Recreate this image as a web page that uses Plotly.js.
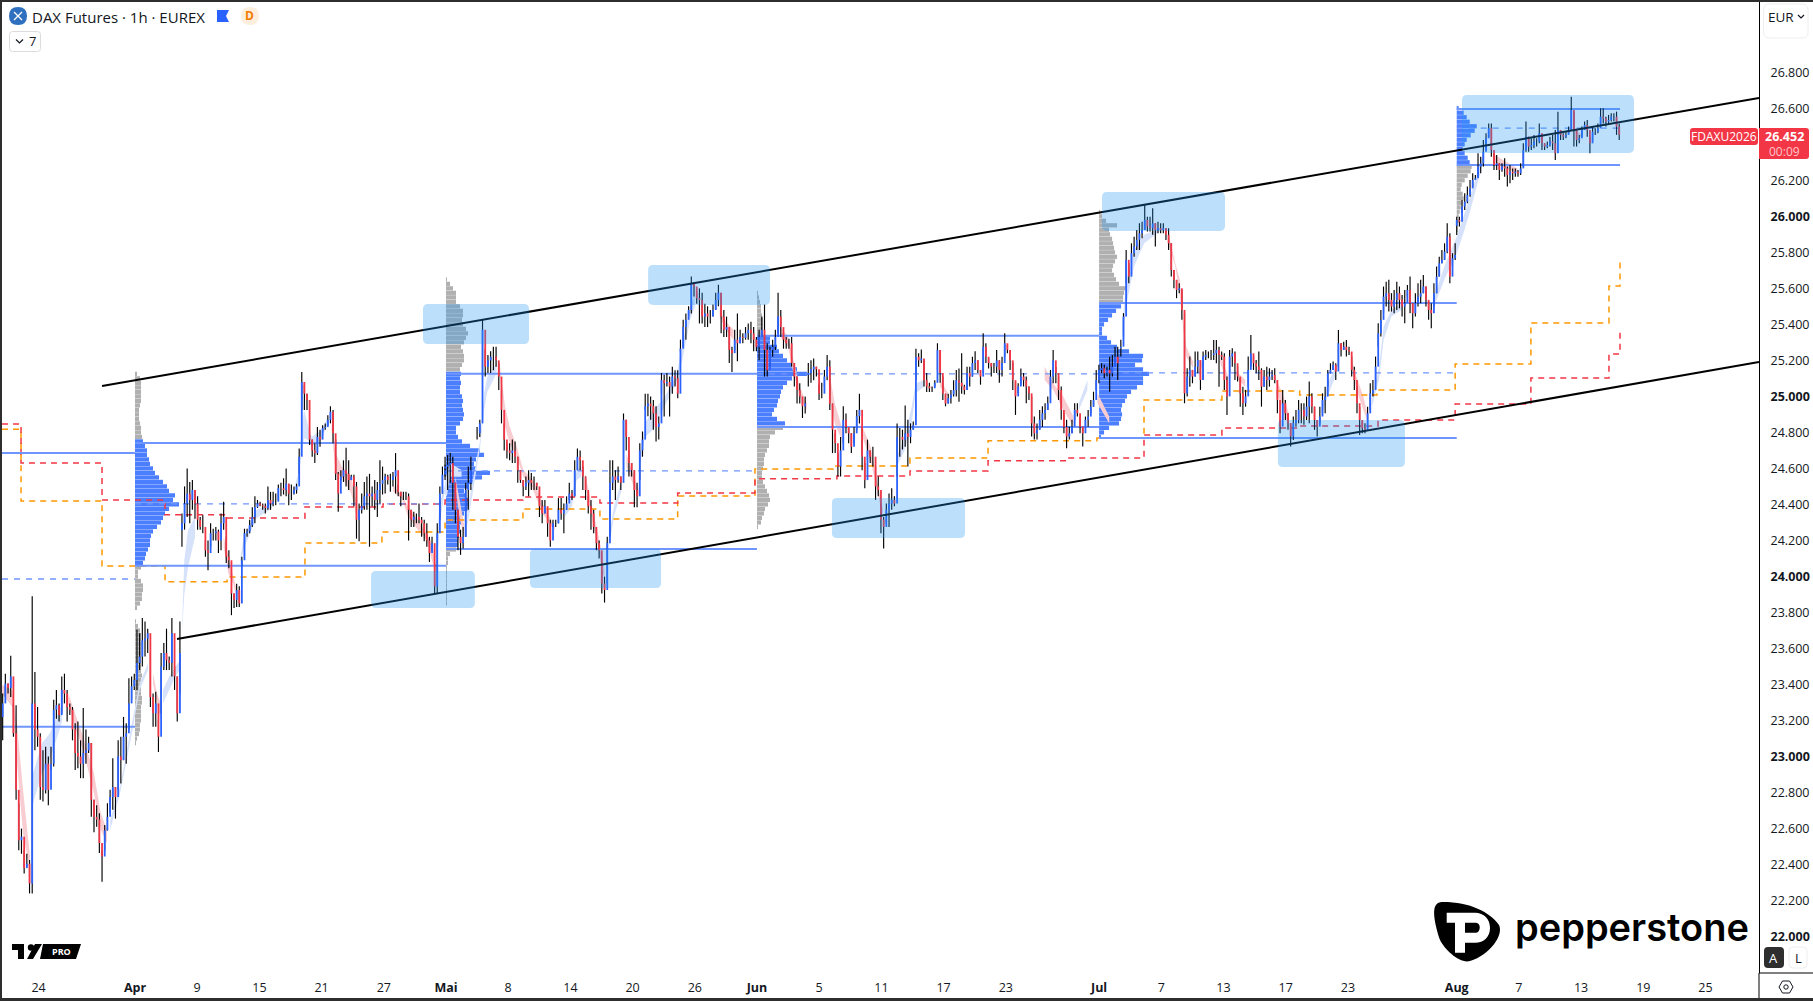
<!DOCTYPE html>
<html><head><meta charset="utf-8">
<script src="https://cdn.plot.ly/plotly-3.0.1.min.js"></script>
<style>
html,body{margin:0;padding:0;background:#fff;overflow:hidden}
#chart{position:absolute;left:0;top:0;width:1813px;height:1001px}
.f{position:absolute;background:#2e2e2e;pointer-events:none}
</style></head><body>
<div id="chart"></div>
<div class="f" style="left:0;top:0;width:2px;height:1001px"></div>
<div class="f" style="left:0;top:0;width:1813px;height:2px"></div>
<div class="f" style="left:0;top:998px;width:1813px;height:3px"></div>
<script>
// Hourly DAX future as [high, low, close] rows per stretch of trading days.
const marBars=[[23350,23090,23295],[23460,23330,23405],[23405,23350,23380],[23560,23330,23445],[23295,23110,23130],[23285,22760,22815],[22740,22480,22535],[22600,22460,22555],[22480,22350,22380],[22460,22390,22405],[22425,22240,22295],[23890,22240,23295],[23470,23035,23150],[23275,23055,23110],[23130,22760,22830],[23035,22750,22815],[23055,22795,22960],[23000,22730,22815],[23055,22925,22960],[23315,22945,23260],[23370,23210,23285],[23295,23195,23230],[23445,23240,23370],[23460,23295,23350],[23370,23195,23275],[23295,23230,23260],[23275,23090,23150],[23185,22925,23020],[23195,22935,23000],[23090,22880,22960],[23270,22880,23020],[23150,22960,23035],[23110,23020,23075],[23075,22665,22760],[22760,22580,22665],[22730,22610,22650],[22685,22465,22520],[22480,22305,22445],[22620,22480,22590],[22740,22590,22665],[22815,22685,22775],[22990,22705,22830],[22830,22655,22775],[23090,22815,23000],[23110,22850,22980],[23220,22980,23110],[23185,22960,23130],[23435,23150,23295],[23445,23315,23390],[23460,23370,23425],[23705,23370,23520],[23685,23480,23555],[23770,23500,23645],[23750,23555,23655],[23710,23575,23685],[23575,23275,23330],[23350,23165,23240],[23360,23165,23295],[23205,23025,23110],[23575,23240,23500],[23630,23480,23575],[23710,23480,23535],[23555,23480,23520],[23770,23445,23685],[23500,23370,23445],[23445,23195,23240],[23750,23350,23575]];
const aprBars=[[24350,24165,24295],[24500,24260,24405],[24600,24330,24460],[24525,24295,24425],[24535,24370,24480],[24480,24320,24405],[24445,24260,24315],[24330,24260,24275],[24340,24240,24275],[24200,24110,24145],[24200,24035,24130],[24295,24165,24240],[24265,24200,24240],[24275,24200,24250],[24260,24130,24200],[24350,24145,24295],[24415,24260,24330],[24220,24075,24110],[24145,24045,24090],[23925,23785,23905],[23905,23825,23870],[23960,23830,23925],[23945,23830,23850],[24110,24055,24090],[24265,24110,24240],[24265,24220,24250],[24315,24240,24285],[24385,24275,24330],[24445,24295,24385],[24425,24380,24405],[24415,24390,24395],[24405,24370,24390],[24405,24350,24380],[24500,24370,24425],[24470,24370,24405],[24470,24390,24415],[24460,24395,24415],[24510,24425,24490],[24520,24445,24490],[24545,24455,24480],[24600,24445,24515],[24515,24395,24460],[24510,24425,24460],[24500,24455,24480],[24515,24460,24500],[24710,24570,24665],[25135,24925,25080],[25065,24925,25015],[25015,24925,24980],[24785,24730,24760],[24760,24665,24700],[24740,24630,24685],[24830,24675,24775],[24815,24720,24760],[24840,24805,24825],[24850,24815,24830],[24895,24840,24870],[24945,24850,24915],[24925,24740,24795],[24760,24535,24570],[24580,24360,24460],[24590,24535,24555],[24645,24525,24590],[24715,24500,24570],[24645,24480,24535],[24565,24535,24555],[24565,24390,24500],[24525,24210,24315],[24405,24195,24370],[24460,24350,24390],[24525,24370,24445],[24555,24370,24460],[24570,24165,24445],[24500,24390,24460],[24535,24370,24425],[24525,24330,24480],[24645,24405,24515],[24610,24455,24535],[24570,24460,24555],[24565,24510,24535],[24570,24470,24535],[24580,24500,24555],[24685,24460,24590],[24510,24445,24470],[24470,24390,24445],[24470,24425,24445],[24470,24425,24445],[24460,24200,24370],[24370,24275,24315],[24360,24275,24330],[24350,24295,24330],[24405,24295,24315],[24330,24220,24295],[24315,24195,24240],[24295,24165,24200],[24220,24080,24130],[24220,24145,24185],[24070,23905,23945],[24295,23905,24240],[24500,24315,24460],[24610,24460,24565],[24620,24555,24590]];
const mayEarlyBars=[[24665,24535,24610],[24675,24480,24620],[24685,24520,24630],[24665,24370,24520],[24520,24295,24370],[24370,24145,24220],[24260,24120,24185],[24275,24155,24220],[24520,24220,24480],[24610,24370,24520],[24665,24480,24590]];
const mayBars=[[24830,24760,24795],[24870,24775,24850],[25425,25110,25370],[25260,25110,25165],[25230,25130,25200],[25250,25130,25220],[25275,25145,25220],[25275,25165,25200],[25185,25035,25110],[25035,24850,24925],[24850,24700,24760],[24740,24655,24700],[24740,24645,24685],[24760,24630,24700],[24750,24630,24665],[24665,24520,24590],[24590,24520,24535],[24535,24445,24500],[24555,24480,24520],[24590,24445,24535],[24575,24480,24520],[24555,24480,24520],[24520,24480,24500],[24480,24330,24390],[24425,24295,24350],[24425,24350,24390],[24370,24220,24295],[24315,24165,24200],[24315,24275,24295],[24315,24275,24295],[24435,24295,24370],[24435,24315,24350],[24405,24240,24370],[24445,24370,24405],[24520,24425,24460],[24480,24425,24445],[24645,24445,24590],[24710,24590,24665],[24700,24590,24645],[24610,24480,24555],[24555,24425,24480],[24445,24350,24390],[24425,24260,24350],[24370,24240,24275],[24275,24145,24185],[24200,24100,24145],[24035,23905,23960],[23999,23855,23925],[24220,23960,24185],[24645,24220,24520],[24645,24480,24555],[24590,24425,24535],[24610,24520,24555],[24555,24480,24520],[24905,24555,24870],[24870,24700,24775],[24700,24555,24630],[24630,24555,24590],[24590,24385,24480],[24520,24385,24445],[24740,24535,24700],[24805,24665,24760],[25015,24925,24945],[25015,24890,24960],[25000,24870,24945],[24980,24815,24905],[24945,24750,24830],[24888,24760,24850],[25130,25015,25090],[25120,24888,25073],[25130,25055,25080],[25110,24888,25055],[25165,25015,25110],[25145,25055,25100],[25145,24990,25015],[25315,25250,25265],[25425,25275,25385],[25460,25315,25425],[25500,25445,25480],[25665,25460,25628],[25635,25555,25610],[25575,25515,25545],[25600,25405,25535],[25575,25405,25443],[25515,25385,25460],[25500,25385,25443],[25480,25405,25443],[25510,25443,25480],[25575,25480,25535],[25620,25500,25575],[25575,25350,25443],[25480,25330,25370],[25443,25330,25385],[25370,25185,25258],[25275,25135,25240],[25370,25258,25315],[25460,25195,25295],[25370,25295,25330],[25350,25295,25325],[25385,25315,25350],[25405,25315,25370],[25415,25295,25350],[25385,25250,25315],[25330,25250,25275],[25370,25200,25330],[25443,25330,25370],[25510,25110,25258],[25295,25110,25145],[25275,25165,25258],[25315,25220,25275],[25370,25258,25330],[25575,25350,25443],[25480,25330,25385],[25350,25265,25315],[25330,25265,25295],[25320,25265,25295],[25330,25165,25185],[25185,25055,25110],[25110,24960,25035],[25073,24960,25000],[24980,24880,24945],[25000,24905,24960]];
const junBars=[[25185,25055,25130],[25200,25075,25150],[25210,25090,25165],[25165,25110,25150],[25065,24980,25015],[25075,24990,25015],[25147,25055,25110],[25230,25090,25165],[25200,24925,24960],[24960,24685,24815],[24795,24685,24740],[24685,24555,24610],[24775,24555,24700],[24945,24740,24870],[24905,24795,24830],[24830,24740,24795],[24795,24685,24720],[24830,24740,24795],[24925,24815,24890],[25015,24850,24925],[24830,24590,24665],[24630,24490,24535],[24760,24645,24700],[24700,24630,24665],[24720,24610,24665],[24610,24425,24500],[24555,24445,24480],[24405,24240,24315],[24330,24155,24275],[24405,24295,24370],[24460,24275,24405],[24490,24370,24425],[24445,24390,24405],[24850,24555,24775],[24825,24665,24775],[24815,24705,24760],[24950,24720,24795],[24870,24610,24775],[24850,24740,24815],[24860,24815,24840],[25265,25090,25220],[25240,25165,25200],[25260,25185,25210],[25200,25055,25090],[25130,25025,25055],[25075,25025,25045],[25055,25025,25045],[25090,25055,25075],[25295,25147,25258],[25258,25075,25130],[25110,24980,25015],[25015,24945,24960],[25015,24960,24990],[25035,24960,25010],[25090,25000,25035],[25147,25000,25090],[25155,24970,25075],[25240,25015,25055],[25065,25010,25035],[25165,25035,25130],[25165,25055,25110],[25220,25110,25185],[25250,25147,25200],[25200,25130,25147],[25130,25065,25110],[25350,25130,25275],[25295,25185,25220],[25210,25155,25185],[25185,25110,25165],[25185,25130,25165],[25258,25130,25200],[25200,25075,25147],[25220,25110,25185],[25350,25220,25295],[25285,25240,25258],[25258,25147,25200],[25185,25035,25090],[25073,24897,25000],[25073,25017,25055],[25155,25065,25110],[25130,25055,25090],[25110,24962,25055],[25055,24980,25017],[25000,24777,24850],[24888,24760,24795],[24850,24760,24815],[24925,24815,24870],[24945,24830,24906],[24962,24870,24925],[25000,24925,24962],[25147,25017,25110],[25258,25073,25200],[25165,25073,25130],[25110,24980,25035],[25055,24870,24925],[24906,24795,24830],[24870,24712,24777],[24832,24760,24795],[24870,24795,24832],[24962,24870,24925],[24962,24888,24906],[24888,24795,24832],[24832,24721,24795],[24888,24832,24870],[24925,24832,24888],[24980,24906,24943],[25026,24943,24980],[25147,25036,25091],[25175,25073,25147],[25184,25128,25156],[25175,25100,25128],[25165,25110,25147],[25220,25026,25128],[25230,25110,25165],[25276,25165,25220],[25276,25091,25184]];
const julBars=[[25314,25221,25276],[25462,25332,25443],[25813,25628,25758],[25739,25628,25665],[25850,25739,25795],[25887,25776,25832],[25924,25813,25869],[25961,25813,25906],[25970,25878,25924],[26063,25924,25980],[25998,25915,25943],[25998,25915,25934],[26045,25897,25961],[25961,25832,25924],[25970,25906,25934],[25961,25906,25924],[25961,25906,25934],[25934,25869,25897],[25934,25813,25850],[25850,25665,25702],[25702,25600,25647],[25647,25545,25591],[25628,25573,25600],[25591,25425,25480],[25462,24962,25017],[25156,25000,25110],[25221,25054,25147],[25147,25073,25110],[25249,25110,25165],[25249,25128,25202],[25202,25036,25091],[25249,25091,25221],[25258,25202,25230],[25249,25212,25230],[25258,25202,25230],[25313,25202,25239],[25313,25184,25258],[25276,25054,25230],[25249,25202,25221],[25239,25036,25091],[25110,24897,25000],[25258,25128,25221],[25267,25165,25239],[25249,25091,25184],[25165,25082,25110],[25101,24943,25017],[25054,24897,24962],[25036,24943,25000],[25221,25054,25147],[25341,25165,25239],[25221,25147,25184],[25202,25128,25165],[25249,25091,25147],[25156,24943,25054],[25147,25054,25110],[25165,25036,25091],[25156,25054,25110],[25147,25091,25119],[25156,25073,25091],[25036,24906,24980],[24869,24795,24832],[25036,24869,24962],[24980,24869,24906],[24906,24814,24851],[24851,24721,24777],[24888,24758,24851],[24925,24832,24869],[24980,24851,24925],[24962,24851,24925],[24962,24842,24888],[24999,24869,24943],[25082,24851,24999],[25017,24906,24943],[24943,24814,24869],[24869,24777,24832],[24943,24851,24888],[25017,24906,24980],[25054,24906,24999],[25147,25054,25128],[25184,25128,25147],[25193,25147,25175],[25184,25091,25138],[25369,25165,25295],[25295,25221,25258],[25304,25258,25276],[25313,25221,25258],[25276,25230,25249],[25221,25110,25147],[25165,25036,25091],[25054,24906,24962],[24943,24786,24869],[24860,24795,24823],[24851,24795,24814],[24943,24823,24906],[25073,24925,25017],[25091,24999,25036],[25221,25073,25165],[25406,25276,25350],[25480,25332,25425],[25610,25462,25554],[25637,25499,25573],[25647,25471,25536],[25573,25471,25499],[25591,25462,25536],[25637,25480,25573],[25610,25489,25536],[25563,25443,25499],[25591,25406,25517],[25619,25554,25591],[25665,25462,25517],[25517,25378,25462],[25573,25443,25517],[25628,25499,25554],[25647,25517,25573],[25674,25573,25610],[25610,25499,25536],[25526,25425,25480],[25517,25378,25462],[25628,25499,25573],[25721,25573,25665],[25776,25665,25739],[25813,25739,25758],[25850,25758,25804],[25961,25795,25887],[25906,25628,25665],[25795,25721,25767],[25850,25758,25785]];
const augBars=[[25998,25896,25980],[25998,25943,25970],[26091,26017,26054],[26128,26035,26081],[26165,26072,26118],[26202,26109,26155],[26239,26165,26202],[26230,26202,26211],[26350,26220,26276],[26331,26239,26294],[26424,26276,26359],[26461,26368,26433],[26516,26442,26489],[26516,26331,26368],[26350,26257,26285],[26340,26257,26294],[26294,26202,26257],[26294,26248,26276],[26322,26220,26266],[26276,26165,26229],[26285,26183,26248],[26266,26202,26239],[26266,26220,26248],[26257,26220,26239],[26294,26229,26266],[26405,26276,26368],[26526,26359,26442],[26442,26359,26387],[26433,26368,26396],[26452,26378,26415],[26433,26387,26415],[26516,26405,26461],[26452,26368,26405],[26405,26368,26387],[26415,26378,26396],[26442,26387,26415],[26452,26368,26405],[26479,26313,26350],[26581,26452,26479],[26479,26424,26452],[26461,26424,26442],[26470,26433,26452],[26498,26461,26479],[26664,26479,26590],[26581,26387,26479],[26461,26387,26424],[26452,26405,26433],[26498,26442,26479],[26526,26479,26507],[26535,26442,26479],[26442,26350,26405],[26498,26424,26470],[26489,26452,26470],[26516,26461,26489],[26600,26498,26553],[26600,26516,26544],[26553,26498,26526],[26563,26507,26535],[26572,26526,26553],[26572,26526,26553],[26581,26452,26498],[26516,26424,26452]];
// first and last trading day of each stretch (Apr 1 = day 0)
const barSpans=[[marBars,-8.51,2.89],[aprBars,3.02,19.94],[mayEarlyBars,19.94,21.6],[mayBars,22.0,43.1],[junBars,43.3,63.2],[julBars,63.4,84.9],[augBars,85.0,95.45]];

// pale moving-average ribbons: [day, upper, lower]
const upRibbons=[
[[-6.62,22888,22722],[-5.98,23074,22907],[-5.47,23129,22981],[-4.69,23296,23194]],
[[-1.6,22648,22592],[-0.96,22833,22796],[-0.2,23185,23129],[0.3,23407,23370],[0.84,23518,23481]],
[[1.8,23370,23296],[2.2,23444,23370],[2.6,23499,23444],[2.9,23536,23481]],
[[3.03,23730,23700],[3.17,24091,23900],[3.41,24258,24050],[3.86,24332,24220]],
[[6.75,24091,24054],[6.97,24202,24147],[7.3,24277,24221],[7.8,24369,24323],[8.8,24406,24378]],
[[10.17,24471,24452],[10.5,24573,24517],[10.7,24813,24684],[10.87,24924,24767],[11.1,24850,24758],[11.36,24776,24721],[12.0,24813,24758],[12.4,24887,24850]],
[[19.4,24165,24054],[19.6,24406,24295],[19.9,24499,24462],[20.05,24573,24443],[20.27,24628,24554],[21,24591,24554]],
[[21.37,24369,24277],[21.75,24554,24480],[22.2,24758,24721],[22.45,25017,24925],[22.66,25110,25026],[23.25,25184,25128]],
[[27.65,24369,24332],[28.1,24443,24388],[28.4,24591,24536],[28.7,24610,24554]],
[[30.45,24203,24147],[30.8,24388,24332],[31.3,24536,24480]],
[[32.5,24665,24628],[32.8,24850,24776],[33.3,24925,24813],[33.95,24980,24925],[34.8,25110,25073],[35.2,25276,25202],[35.7,25498,25424],[36,25572,25498]],
[[49,24666,24610],[49.5,24777,24702],[49.95,24943,24851],[50.2,25073,25017],[50.75,25091,25054]],
[[60.7,24962,24925],[61.25,25091,25036]],
[[63.5,25406,25332],[63.77,25647,25517],[64.25,25813,25721],[64.9,25897,25850],[65.9,25934,25915]],
[[68.4,25147,25110],[68.8,25239,25212]],
[[76.3,24925,24888],[76.7,25073,25000],[77.2,25165,25110]],
[[79.55,24980,24943],[80,25165,25091],[80.3,25388,25313],[80.8,25480,25443],[81.45,25517,25480]],
[[83.55,25554,25499],[84.2,25721,25647],[85,25887,25795],[85.5,26017,25924],[85.9,26120,26040],[86.75,26368,26313]]];
const downRibbons=[
[[-8.55,23397,23350],[-7.9,23370,23277],[-7.6,23185,22962],[-7.2,22815,22574],[-6.75,22444,22370]],
[[-4.3,23351,23296],[-3.86,23240,23166],[-3.34,23111,23037],[-2.64,22907,22796],[-2.2,22685,22592],[-1.8,22592,22518]],
[[1.16,23462,23407],[1.41,23351,23296],[1.67,23296,23203]],
[[5.7,24221,24165],[6.0,24110,24017],[6.3,24017,23962],[6.54,23925,23888]],
[[12.65,24850,24813],[12.9,24684,24573],[13.3,24610,24554],[13.9,24554,24462],[14.26,24406,24332]],
[[16.6,24508,24471],[17.15,24452,24434],[17.56,24388,24332],[18.2,24314,24258],[18.75,24239,24202],[19.2,24147,24054],[19.3,24054,24017]],
[[20.6,24554,24499],[20.9,24406,24314],[21.17,24286,24221]],
[[23.47,25174,25119],[23.8,24943,24832],[24.1,24832,24739],[24.55,24721,24665],[24.97,24591,24554],[25.6,24536,24480],[26.2,24406,24351],[26.8,24314,24277],[27,24277,24258]],
[[28.94,24573,24517],[29.4,24388,24314],[29.7,24277,24203],[30,24147,24054],[30.2,24036,23980]],
[[31.6,24684,24610],[32,24573,24517],[32.4,24480,24443]],
[[37.6,25480,25443],[38,25415,25369],[38.5,25369,25313]],
[[41.5,25387,25332],[42,25332,25276],[42.3,25221,25147],[42.75,25054,25000],[43.2,24962,24925]],
[[44.7,25110,25000],[45,24962,24851],[45.45,24832,24758]],
[[46.7,24851,24795],[47.3,24721,24647],[47.8,24499,24443],[48.1,24369,24332]],
[[51.77,25091,25054],[52.3,25017,24999]],
[[58.5,25165,25091],[59.05,25073,25036],[59.7,25000,24925],[60.35,24888,24832]],
[[61.9,25017,24962],[62.65,24888,24851]],
[[66.45,25906,25850],[66.9,25739,25721],[67.2,25647,25554],[67.35,25462,25425],[67.6,25276,25221],[68.05,25193,25156]],
[[69.8,25239,25184],[70.3,25110,25054]],
[[70.85,25138,25101],[71.4,25091,25054]],
[[73.4,25091,25017],[73.8,25017,24943],[74.2,24906,24823]],
[[78.2,25221,25184],[78.55,25110,25036],[79,24999,24925],[79.3,24888,24851]],
[[87.45,26340,26294],[88.9,26266,26239]],
[[92.6,26489,26470],[93.05,26452,26433]]];

// monthly volume profiles: top bin price, then volume per 25-point bin going down
const binSize=25;
const aprProfile=[2,5,6,6,6,6,6,5,4,4,4,5,6,6,7,8,10,12,12,14,15,18,20,24,28,32,34,40,38,44,34,30,28,26,22,18,16,15,15,13,11,10,8,6,3,3,6,8,8,7,7,5,2,0,0,1,3,5,6,6,6,6,6,6,6,6,6,7,6,6,6,6,7,7,6,6,6,6,5,5,4,2,1];
const mayProfile=[1,4,7,10,10,10,14,17,17,16,17,20,22,20,18,15,17,18,18,16,14,15,14,15,14,14,16,17,16,17,18,17,14,10,10,12,16,24,34,38,30,28,30,44,36,28,22,18,20,22,24,22,18,16,16,14,14,13,12,12,10,4,2,2,1,1,1,1,1,1,1,1,1];
const junProfile=[1,2,3,4,4,5,6,6,6,6,13,13,20,22,26,30,34,40,50,35,30,26,24,23,21,20,17,15,20,28,26,18,13,12,12,10,8,7,7,6,5,5,6,8,10,12,13,11,8,7,5,4,1];
const julProfile=[1,3,7,18,10,11,13,14,15,16,18,16,14,13,15,17,20,30,25,24,24,22,17,13,9,5,3,3,8,12,18,30,44,43,36,44,50,44,44,38,32,28,26,23,22,23,22,20,10,5,2];
const augProfile=[2,7,10,13,20,18,14,10,8,6,8,11,13,15,14,11,8,5,4,6,7,5,4,3,2,2,1,1];
const profiles=[[aprProfile,0,25125,24750,24060],[mayProfile,20,25650,25125,24153],[junProfile,40,25575,25336,24830],[julProfile,62,26025,25519,24769],[augProfile,85,26600,26600,26285]];
const daysPerVolumeUnit=1/15.55;

// value-area high, point of control, value-area low and the days each month's levels run over
const levelMonths=[[-8.55,0],[0,20],[20,40],[40,62],[62,85],[85,95.5]];
const valueHighs=[24686,24741,25125,25336,25519,26596];
const pointsOfControl=[23986,24403,24586,25125,25130,26490];
const valueLows=[23165,24059,24153,24830,24769,26285];

// stepped monthly levels
const orangeDays=[-8.55,-7.33,-2.12,1.93,5.92,10.93,15.88,19.94,24.95,29.9,34.9,39.87,44.9,49.84,54.86,61.86,64.89,69.9,74.9,79.87,84.9,89.77,94.79,95.5,95.5];
const orangeLevels=[24818,24419,24058,23970,23997,24186,24247,24314,24375,24319,24447,24597,24614,24658,24753,24769,24980,25030,25008,25036,25180,25408,25613,25613,25769];
const redDays=[-8.55,-7.33,-2.12,1.93,5.92,10.93,15.95,19.94,24.95,29.9,34.9,39.87,45.14,49.84,54.86,59.94,64.89,69.9,74.8,79.94,84.9,89.77,94.79,95.5,95.5];
const redLevels=[24847,24630,24425,24342,24325,24386,24403,24425,24441,24408,24464,24542,24558,24586,24642,24658,24786,24825,24836,24869,24958,25102,25236,25236,25353];

// channel lines: [day, price]
const upperChannel=[[-2.12,25058],[104.44,26657]];
const lowerChannel=[[2.7,23653],[104.44,25191]];

// highlighted zones: day from, day to, price top, price bottom
const zones=[[15.18,21.86,24031,23825],[18.52,25.34,25513,25291],[25.4,33.83,24153,23936],[33,40.84,25730,25508],[44.82,53.38,24436,24214],[62.19,70.1,26135,25919],[73.5,81.67,24869,24608],[85.34,96.4,26674,26352]];

const priceTicks=[26800,26600,26200,26000,25800,25600,25400,25200,25000,24800,24600,24400,24200,24000,23800,23600,23400,23200,23000,22800,22600,22400,22200,22000];
const priceLabels=['26.800','26.600','26.200','<b>26.000</b>','25.800','25.600','25.400','25.200','<b>25.000</b>','24.800','24.600','24.400','24.200','<b>24.000</b>','23.800','23.600','23.400','23.200','<b>23.000</b>','22.800','22.600','22.400','22.200','<b>22.000</b>'];
const dayTicks=[-6.2,0,4,8,12,16,20,24,28,32,36,40,44,48,52,56,62,66,70,74,78,85,89,93,97,101];
const dayLabels=['24','<b>Apr</b>','9','15','21','27','<b>Mai</b>','8','14','20','26','<b>Jun</b>','5','11','17','23','<b>Jul</b>','7','13','17','23','<b>Aug</b>','7','13','19','25'];

const BLUE='#2962ff',RED='#f23645',LEVEL='#6f96ff',FONT='"Open Sans",sans-serif',INK='#131722';
const traces=[];

function ribbonTrace(list,color){
  const x=[],y=[];
  list.forEach(r=>{
    r.forEach(p=>{x.push(p[0]);y.push(p[1]);});
    r.slice().reverse().forEach(p=>{x.push(p[0]);y.push(p[2]);});
    x.push(null);y.push(null);
  });
  return {type:'scatter',mode:'lines',x,y,fill:'toself',fillcolor:color,line:{width:0},hoverinfo:'skip'};
}
traces.push(ribbonTrace(upRibbons,'#d6e1fa'));
traces.push(ribbonTrace(downRibbons,'#f8cdd1'));

profiles.forEach(([vols,day,top,vah,val])=>{
  const y=vols.map((v,i)=>top-i*binSize);
  traces.push({type:'bar',orientation:'h',base:day,y,x:vols.map(v=>v*daysPerVolumeUnit),width:23.5,
    marker:{color:y.map(p=>p<=vah&&p>=val?'#4c7fff':'#b0b0b0'),line:{width:0}},hoverinfo:'skip'});
});

traces.push({type:'scatter',mode:'lines',x:orangeDays,y:orangeLevels,line:{shape:'hv',color:'#ff9800',width:1.5,dash:'6px,5px'}});
traces.push({type:'scatter',mode:'lines',x:redDays,y:redLevels,line:{shape:'hv',color:RED,width:1.5,dash:'6px,5px'}});

function levelTrace(values,dash,width){
  const x=[],y=[];
  levelMonths.forEach((m,i)=>{x.push(m[0],m[1],null);y.push(values[i],values[i],null);});
  return {type:'scatter',mode:'lines',x,y,line:{color:LEVEL,width,dash}};
}
traces.push(levelTrace(valueHighs,'solid',2));
traces.push(levelTrace(valueLows,'solid',2));
traces.push(levelTrace(pointsOfControl,'6px,6px',1.3));

const wx=[],wy=[],ux=[],uy=[],dx=[],dy=[];
barSpans.forEach(([rows,a,b])=>{
  rows.forEach((r,i)=>{
    const t=a+(b-a)*i/(rows.length-1);
    const open=i?rows[i-1][2]:(r[0]+r[1])/2;
    wx.push(t,t,null);wy.push(r[0],r[1],null);
    if(r[2]>=open){ux.push(t,t,null);uy.push(open,r[2],null);}
    else{dx.push(t,t,null);dy.push(open,r[2],null);}
  });
});
traces.push({type:'scatter',mode:'lines',x:wx,y:wy,line:{color:'#000',width:1.15}});
traces.push({type:'scatter',mode:'lines',x:ux,y:uy,line:{color:BLUE,width:1.8}});
traces.push({type:'scatter',mode:'lines',x:dx,y:dy,line:{color:RED,width:1.8}});

[upperChannel,lowerChannel].forEach(c=>traces.push({type:'scatter',mode:'lines',x:c.map(p=>p[0]),y:c.map(p=>p[1]),line:{color:'#000',width:2}}));

const shapes=[];
zones.forEach(([a,b,t,u])=>{
  const rx=0.32,ry=28;
  shapes.push({type:'path',xref:'x',yref:'y',layer:'above',line:{width:0},fillcolor:'rgba(33,150,243,0.3)',
    path:`M${a+rx},${t} L${b-rx},${t} Q${b},${t} ${b},${t-ry} L${b},${u+ry} Q${b},${u} ${b-rx},${u} L${a+rx},${u} Q${a},${u} ${a},${u+ry} L${a},${t-ry} Q${a},${t} ${a+rx},${t} Z`});
});

// page furniture placed in pixels of the 1813x1001 picture
const PL=2,PR=1759,PT=2,PB=973;
const fx=v=>(v-PL)/(PR-PL), fy=v=>1-(v-PT)/(PB-PT);
const pt=(x,y)=>fx(x)+','+fy(y);
function furn(path,fill,line){shapes.push({type:'path',xref:'paper',yref:'paper',layer:'above',path,fillcolor:fill||'rgba(0,0,0,0)',line:line||{width:0}});}
function rr(x0,y0,x1,y1,r,rl){const l=rl===undefined?r:rl;return `M${pt(x0+l,y0)} L${pt(x1-r,y0)} Q${pt(x1,y0)} ${pt(x1,y0+r)} L${pt(x1,y1-r)} Q${pt(x1,y1)} ${pt(x1-r,y1)} L${pt(x0+l,y1)} Q${pt(x0,y1)} ${pt(x0,y1-l)} L${pt(x0,y0+l)} Q${pt(x0,y0)} ${pt(x0+l,y0)} Z`;}
function circ(cx,cy,r){return rr(cx-r,cy-r,cx+r,cy+r,r);}
function poly(list){return 'M'+list.map(p=>pt(p[0],p[1])).join(' L')+' Z';}
function stroke(list){return 'M'+list.map(p=>pt(p[0],p[1])).join(' L');}
const ann=[];
function label(text,x,y,size,color,anchor,extra){ann.push(Object.assign({xref:'paper',yref:'paper',x:fx(x),y:fy(y),text,showarrow:false,xanchor:anchor||'left',yanchor:'middle',font:{family:FONT,size,color:color||INK},borderpad:0,captureevents:false},extra||{}));}

// axis frame pieces outside the plot
furn(stroke([[PR,PB],[1813,PB]]),null,{color:'#000',width:1});
furn(stroke([[PR,PB],[PR,998]]),null,{color:'#000',width:1});

// header
furn(circ(18,16,9),'#2f6fc0');
furn(stroke([[14,12],[22,20]]),null,{color:'#fff',width:1.2});
furn(stroke([[22,12],[14,20]]),null,{color:'#fff',width:1.2});
label('DAX Futures · 1h · EUREX',31,16.5,15);
furn(poly([[217,10],[229,10],[226,16],[229,22],[217,22]]),BLUE);
furn(circ(250,16,9),'#fdeedd');
label('<b>D</b>',250,16,12,'#f57c00','center');
furn(rr(9.5,31.5,40.5,51.5,3),'#fff',{color:'#dcdcdc',width:1});
furn(stroke([[16,39.5],[19.5,43],[23,39.5]]),null,{color:INK,width:1.2});
label('7',32,41.5,13,INK,'center');

// currency button
furn(rr(1763.5,4,1808,38,6),'#fff',{color:'#eeeeee',width:1});
label('EUR',1767,17,13.5,INK);
furn(stroke([[1798,15],[1801,18],[1804,15]]),null,{color:INK,width:1.2});

// last price tags
furn(rr(1690,128,1758,145,3),RED);
label('FDAXU2026',1724,136.5,12,'#fff','center');
furn(rr(1759,128,1809,159,3,0),RED);
label('<b>26.452</b>',1784,137,12.5,'#fff','center');
label('00:09',1784,151,12,'#ffc4c9','center');

// auto / log buttons, settings
furn(rr(1764,947,1784,968,4),'#2e2e2e');
label('A',1774,957.5,13,'#fff','center');
furn(rr(1789,947,1807,968,4),'#fff',{color:'#eeeeee',width:1});
label('L',1798,957.5,13,INK,'center');
furn(poly([[1779,987],[1782.5,981],[1789.5,981],[1793,987],[1789.5,993],[1782.5,993]]),null,{color:INK,width:1});
furn(circ(1786,987,2.2),null,{color:INK,width:1});

// TradingView mark
furn(poly([[12,944],[24,944],[24,959],[18,959],[18,950],[12,950]]),'#000');
furn(circ(31,947.5,3.2),'#000');
furn(poly([[42,944],[35,944],[27,959],[33,959]]),'#000');
furn(poly([[43,944],[81,944],[76,959],[40,959]]),'#000');
label('<b>PRO</b>',61,951.5,9,'#fff','center');

// Pepperstone mark
furn(`M${pt(1443,902)} C${pt(1470,902)} ${pt(1490,912)} ${pt(1499,925)} C${pt(1504,935)} ${pt(1490,955)} ${pt(1470,961)} C${pt(1460,964)} ${pt(1445,950)} ${pt(1440,940)} C${pt(1435,925)} ${pt(1432,910)} ${pt(1436,905)} C${pt(1438,902)} ${pt(1441,902)} ${pt(1443,902)} Z`,'#000');
furn(`M${pt(1446.7,912.7)} L${pt(1475,912.7)} C${pt(1484,912.7)} ${pt(1490,919)} ${pt(1490,928)} C${pt(1490,937)} ${pt(1484,942.7)} ${pt(1475,942.7)} L${pt(1465,942.7)} L${pt(1465,952.7)} L${pt(1455,952.7)} L${pt(1455,922.7)} L${pt(1446.7,922.7)} Z`,'#fff');
furn(`M${pt(1465,922.7)} L${pt(1476,922.7)} C${pt(1481,923)} ${pt(1481,932)} ${pt(1476,932.7)} L${pt(1465,932.7)} Z`,'#000');
label('pepperstone',1514,927,38,'#000','left',{font:{family:'Inter,sans-serif',size:38,color:'#000',weight:600}});

Plotly.newPlot('chart',traces,{
  width:1813,height:1001,
  margin:{l:PL,r:1813-PR,t:PT,b:1001-PB,pad:0},
  paper_bgcolor:'#fff',plot_bgcolor:'#fff',
  showlegend:false,hovermode:false,barmode:'overlay',
  font:{family:FONT,size:12.5,color:INK},
  xaxis:{range:[-8.553,104.44],showgrid:false,zeroline:false,showline:false,
    tickmode:'array',tickvals:dayTicks,ticktext:dayLabels,ticks:'',tickangle:0,tickfont:{size:12.5,color:INK},ticklabelstandoff:5,fixedrange:true},
  yaxis:{range:[21798,27190],side:'right',showgrid:false,zeroline:false,showline:true,linecolor:'#000',linewidth:1,
    tickmode:'array',tickvals:priceTicks,ticktext:priceLabels,ticks:'',tickfont:{size:12.5,color:INK},ticklabelstandoff:8,fixedrange:true},
  shapes,annotations:ann
},{displayModeBar:false,staticPlot:true});
</script>
</body></html>
